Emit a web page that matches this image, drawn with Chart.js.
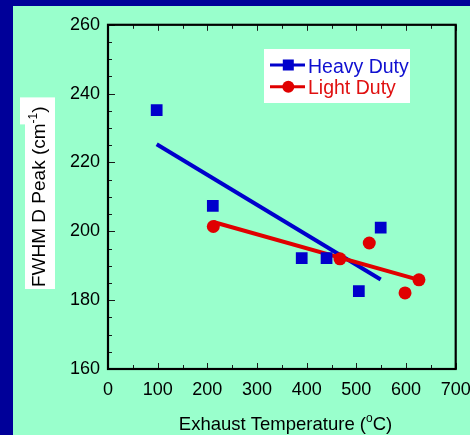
<!DOCTYPE html>
<html><head><meta charset="utf-8">
<script src="https://cdn.jsdelivr.net/npm/chart.js@4.4.1/dist/chart.umd.min.js"></script>
<style>
html,body{margin:0;padding:0;width:470px;height:435px;overflow:hidden;background:#000099;}
#c{position:absolute;left:13px;top:6px;background:#99ffcc;}
</style></head><body>
<canvas id="c" width="470" height="429"></canvas>
<script>
// ---- data ----
const heavyTemp = [98, 211, 390, 440, 505, 549];
const heavyFWHM = [235.2, 207.4, 192.2, 192.2, 182.6, 201.1];
const lightTemp = [212, 467, 526, 598, 626];
const lightFWHM = [201.4, 192.0, 196.6, 182.1, 185.9];
const heavyFitTemp = [98, 549];
const heavyFitFWHM = [225.3, 186.0];
const lightFitTemp = [212, 626];
const lightFitFWHM = [202.7, 185.9];
const seriesNames = ['Heavy Duty', 'Light Duty'];
const xTitleParts = ['Exhaust Temperature (', 'o', 'C)'];
const yTitleParts = ['FWHM D Peak (cm', '-1', ')'];
const xRange = [0, 700];
const yRange = [160, 260];

const FONT = "'Liberation Sans', Arial, sans-serif";
const BLUE = '#0000cc';
const RED = '#e00000';

const pts = (xs, ys) => xs.map((v, i) => ({x: v, y: ys[i]}));

const framePlugin = {
  id: 'frame',
  afterDatasetsDraw(chart) {
    const {ctx, chartArea: a, scales: {x, y}} = chart;
    ctx.save();
    ctx.strokeStyle = '#1a1a1a';
    ctx.lineWidth = 1;
    ctx.beginPath();
    for (let v = xRange[0]; v <= xRange[1]; v += 50) {
      const px = Math.round(x.getPixelForValue(v)) + 0.5;
      const L = v % 100 === 0 ? 6 : 4;
      ctx.moveTo(px, a.bottom); ctx.lineTo(px, a.bottom - L);
      ctx.moveTo(px, a.top); ctx.lineTo(px, a.top + L);
    }
    for (let v = yRange[0]; v <= yRange[1]; v += 5) {
      const py = Math.round(y.getPixelForValue(v)) + 0.5;
      const L = v % 20 === 0 ? 7 : 4;
      ctx.moveTo(a.left, py); ctx.lineTo(a.left + L, py);
    }
    ctx.stroke();
    ctx.strokeStyle = '#000';
    ctx.lineWidth = 2.2;
    ctx.strokeRect(a.left, a.top, a.right - a.left, a.bottom - a.top);
    ctx.restore();
  },
  afterDraw(chart) {
    const ctx = chart.ctx;
    ctx.save();
    // ---- legend ----
    ctx.fillStyle = '#ffffff';
    ctx.fillRect(251, 43, 146, 54);
    const items = [
      {name: seriesNames[0], color: BLUE, text: '#1010d0', y: 59, base: 67.3, style: 'rect'},
      {name: seriesNames[1], color: RED, text: '#e01010', y: 80.7, base: 88.3, style: 'circle'}
    ];
    items.forEach(it => {
      ctx.strokeStyle = it.color;
      ctx.lineWidth = 3;
      ctx.beginPath(); ctx.moveTo(257, it.y); ctx.lineTo(292, it.y); ctx.stroke();
      ctx.fillStyle = it.color;
      if (it.style === 'rect') ctx.fillRect(275.3 - 5.5, it.y - 5.5, 11, 11);
      else { ctx.beginPath(); ctx.arc(275.3, it.y, 6, 0, Math.PI * 2); ctx.fill(); }
      ctx.fillStyle = it.text;
      ctx.font = '19.5px ' + FONT;
      ctx.textAlign = 'left';
      ctx.textBaseline = 'alphabetic';
      ctx.fillText(it.name, 295, it.base);
    });
    // ---- x title ----
    ctx.fillStyle = '#000';
    ctx.textBaseline = 'alphabetic';
    const fMain = '18.5px ' + FONT, fSup = '12px ' + FONT;
    ctx.font = fMain; const a1 = ctx.measureText(xTitleParts[0]).width;
    ctx.font = fSup; const a2 = ctx.measureText(xTitleParts[1]).width;
    ctx.font = fMain; const a3 = ctx.measureText(xTitleParts[2]).width;
    let sx = 272.5 - (a1 + a2 + a3) / 2;
    const by = 424;
    ctx.font = fMain; ctx.fillText(xTitleParts[0], sx, by);
    ctx.font = fSup; ctx.fillText(xTitleParts[1], sx + a1, by - 8);
    ctx.font = fMain; ctx.fillText(xTitleParts[2], sx + a1 + a2, by);
    // ---- y title ----
    const yMain = '19px ' + FONT;
    ctx.font = yMain; const b1 = ctx.measureText(yTitleParts[0]).width;
    ctx.font = fSup; const b2 = ctx.measureText(yTitleParts[1]).width;
    ctx.font = yMain; const b3 = ctx.measureText(yTitleParts[2]).width;
    ctx.translate(32, 281);
    ctx.rotate(-Math.PI / 2);
    ctx.fillStyle = '#ffffff';
    ctx.fillRect(-2, -20, b1 + 2, 30);
    ctx.fillRect(b1 - 1, -25, b2 + b3 + 10, 35);
    ctx.fillStyle = '#000';
    ctx.font = yMain; ctx.fillText(yTitleParts[0], 0, 0);
    ctx.font = fSup; ctx.fillText(yTitleParts[1], b1, -8);
    ctx.font = yMain; ctx.fillText(yTitleParts[2], b1 + b2, 0);
    ctx.restore();
  }
};

new Chart(document.getElementById('c'), {
  type: 'scatter',
  data: {
    datasets: [
      {label: seriesNames[0], data: pts(heavyTemp, heavyFWHM), pointStyle: 'rect', pointRadius: 8.3,
       backgroundColor: BLUE, borderColor: BLUE, borderWidth: 0, order: 0},
      {label: seriesNames[1], data: pts(lightTemp, lightFWHM), pointStyle: 'circle', pointRadius: 6.5,
       backgroundColor: RED, borderColor: RED, borderWidth: 0, order: 1},
      {label: seriesNames[1] + ' fit', data: pts(lightFitTemp, lightFitFWHM), showLine: true, pointRadius: 0,
       borderColor: RED, borderWidth: 4, order: 2},
      {label: seriesNames[0] + ' fit', data: pts(heavyFitTemp, heavyFitFWHM), showLine: true, pointRadius: 0,
       borderColor: BLUE, borderWidth: 4, order: 3}
    ]
  },
  options: {
    responsive: false,
    animation: false,
    devicePixelRatio: 1,
    layout: {padding: {top: 16.7, right: 27.3, left: 0, bottom: 0}},
    plugins: {legend: {display: false}, tooltip: {enabled: false}},
    scales: {
      x: {
        type: 'linear', min: xRange[0], max: xRange[1],
        ticks: {stepSize: 100, color: '#000', font: {family: FONT, size: 18}, padding: 10, maxRotation: 0},
        grid: {display: false, drawTicks: false},
        border: {display: false},
        afterFit(s) { s.height = 66; }
      },
      y: {
        type: 'linear', min: yRange[0], max: yRange[1],
        ticks: {stepSize: 20, color: '#000', font: {family: FONT, size: 18}, padding: 8},
        grid: {display: false, drawTicks: false},
        border: {display: false},
        afterFit(s) { s.width = 95; }
      }
    }
  },
  plugins: [framePlugin]
});
</script>
</body></html>
